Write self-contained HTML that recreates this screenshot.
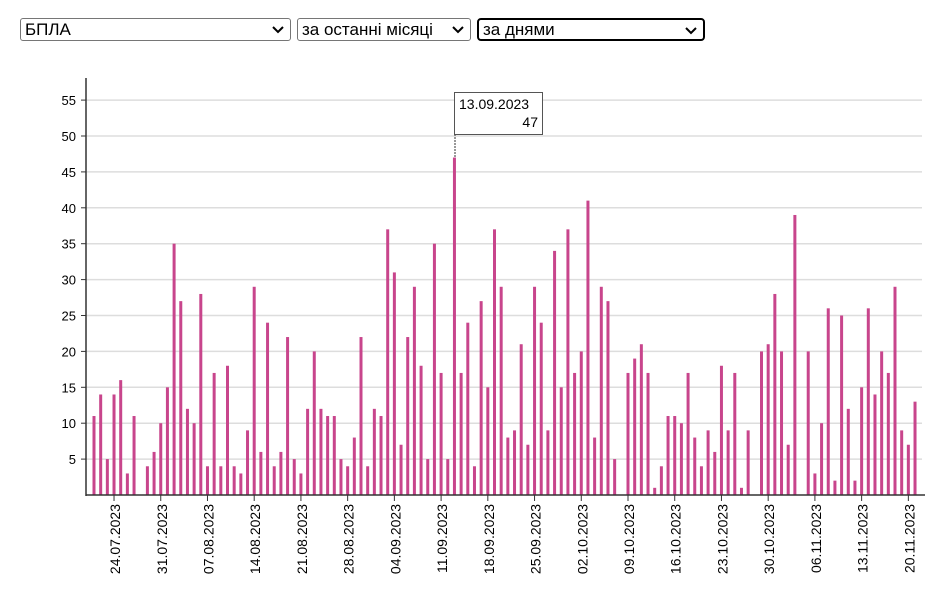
<!DOCTYPE html>
<html><head><meta charset="utf-8"><style>
body{margin:0;width:949px;height:600px;background:#fff;font-family:"Liberation Sans","DejaVu Sans",sans-serif;overflow:hidden;position:relative}
.sel{position:absolute;top:18px;height:23px;border:1px solid #767676;border-radius:3px;box-sizing:border-box;font-size:17px;line-height:21px;padding-left:4px;color:#000;background:#fff}
.sel svg{position:absolute;right:6px;top:7px}
</style></head><body>
<div class="sel" style="left:20px;width:271px">БПЛА<svg width="12" height="8"><path d="M1 1L6 6L11 1" stroke="#000" stroke-width="2" fill="none"/></svg></div>
<div class="sel" style="left:297px;width:174px">за останні місяці<svg width="12" height="8"><path d="M1 1L6 6L11 1" stroke="#000" stroke-width="2" fill="none"/></svg></div>
<div class="sel" style="left:477px;width:228px;border:2px solid #000;border-radius:4px;line-height:19px">за днями<svg width="12" height="8"><path d="M1 1L6 6L11 1" stroke="#000" stroke-width="2" fill="none"/></svg></div>
<svg id="c" width="949" height="600" style="position:absolute;left:0;top:0"></svg>
<script>
var v=[11,14,5,14,16,3,11,0,4,6,10,15,35,27,12,10,28,4,17,4,18,4,3,9,29,6,24,4,6,22,5,3,12,20,12,11,11,5,4,8,22,4,12,11,37,31,7,22,29,18,5,35,17,5,47,17,24,4,27,15,37,29,8,9,21,7,29,24,9,34,15,37,17,20,41,8,29,27,5,0,17,19,21,17,1,4,11,11,10,17,8,4,9,6,18,9,17,1,9,0,20,21,28,20,7,39,0,20,3,10,26,2,25,12,2,15,26,14,20,17,29,9,7,13];
var s='',y0=495,k=7.18;
for(var t=5;t<=55;t+=5){var y=y0-t*k;s+='<line x1="86" x2="922" y1="'+y+'" y2="'+y+'" stroke="#ddd" stroke-width="1.5"/><line x1="81" x2="86" y1="'+y+'" y2="'+y+'" stroke="#333"/><text x="76" y="'+(y+5)+'" font-size="13" text-anchor="end" fill="#000">'+t+'</text>';}
var d0=new Date(2023,6,21);
for(var i=0;i<v.length;i++){var x=94+i*6.675;if(v[i])s+='<rect x="'+(x-1.5)+'" y="'+(y0-v[i]*k)+'" width="3" height="'+(v[i]*k)+'" fill="#c8458c"/>';
if(i%7==3){var d=new Date(d0.getTime()+i*864e5);var lab=('0'+d.getDate()).slice(-2)+'.'+('0'+(d.getMonth()+1)).slice(-2)+'.2023';
s+='<line x1="'+x+'" x2="'+x+'" y1="495" y2="501" stroke="#333"/><text transform="translate('+(x+6)+',504) rotate(-90)" font-size="14" text-anchor="end" fill="#000">'+lab+'</text>';}}
s+='<line x1="86" x2="86" y1="78" y2="496" stroke="#333" stroke-width="1.5"/><line x1="86" x2="925" y1="495" y2="495" stroke="#333" stroke-width="1.5"/>';
s+='<line x1="455" x2="455" y1="134" y2="157" stroke="#333" stroke-dasharray="2,1"/><rect x="454.5" y="92.5" width="88" height="42" fill="#fff" stroke="#555"/><text x="459" y="109" font-size="14">13.09.2023</text><text x="538" y="127" font-size="14" text-anchor="end">47</text>';
document.getElementById('c').innerHTML=s;
</script>
</body></html>
